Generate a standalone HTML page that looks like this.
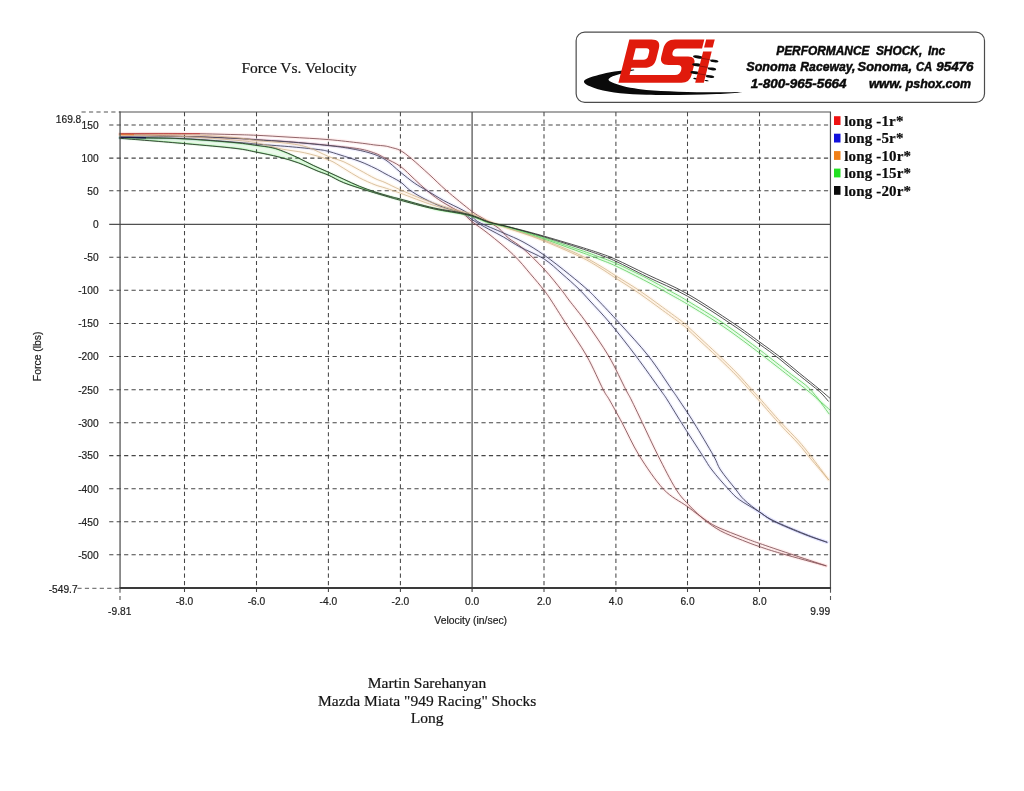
<!DOCTYPE html>
<html><head><meta charset="utf-8"><title>Force Vs. Velocity</title>
<style>
html,body{margin:0;padding:0;background:#fff;}
body{width:1024px;height:791px;overflow:hidden;position:relative;font-family:"Liberation Sans",sans-serif;}
svg{position:absolute;left:0;top:0;display:block;will-change:transform;}
.ax{font-family:"Liberation Sans",sans-serif;font-size:10.4px;fill:#222;stroke:#222;stroke-width:0.2px;}
.ser{font-family:"Liberation Serif",serif;font-size:15.5px;fill:#141414;stroke:#141414;stroke-width:0.2px;}
.leg{font-family:"Liberation Serif",serif;font-weight:bold;font-size:15px;fill:#0c0c0c;stroke:#0c0c0c;stroke-width:0.2px;letter-spacing:0.15px;}
.logo{font-family:"Liberation Sans",sans-serif;font-weight:bold;font-style:italic;font-size:12.3px;fill:#0a0a0a;stroke:#0a0a0a;stroke-width:0.45px;}
</style></head><body>
<svg width="1024" height="791" viewBox="0 0 1024 791">
<rect width="1024" height="791" fill="#ffffff"/>

<g fill="none">
<line x1="109.2" y1="125.0" x2="830.5" y2="125.0" stroke="#464646" stroke-width="1.05" stroke-dasharray="4.2 3.245"/>
<line x1="109.2" y1="158.1" x2="830.5" y2="158.1" stroke="#464646" stroke-width="1.05" stroke-dasharray="4.2 3.245"/>
<line x1="109.2" y1="190.7" x2="830.5" y2="190.7" stroke="#464646" stroke-width="1.05" stroke-dasharray="4.2 3.245"/>
<line x1="109.2" y1="257.3" x2="830.5" y2="257.3" stroke="#464646" stroke-width="1.05" stroke-dasharray="4.2 3.245"/>
<line x1="109.2" y1="290.3" x2="830.5" y2="290.3" stroke="#464646" stroke-width="1.05" stroke-dasharray="4.2 3.245"/>
<line x1="109.2" y1="323.4" x2="830.5" y2="323.4" stroke="#464646" stroke-width="1.05" stroke-dasharray="4.2 3.245"/>
<line x1="109.2" y1="356.4" x2="830.5" y2="356.4" stroke="#464646" stroke-width="1.05" stroke-dasharray="4.2 3.245"/>
<line x1="109.2" y1="389.8" x2="830.5" y2="389.8" stroke="#464646" stroke-width="1.05" stroke-dasharray="4.2 3.245"/>
<line x1="109.2" y1="422.7" x2="830.5" y2="422.7" stroke="#464646" stroke-width="1.05" stroke-dasharray="4.2 3.245"/>
<line x1="109.2" y1="455.6" x2="830.5" y2="455.6" stroke="#464646" stroke-width="1.05" stroke-dasharray="4.2 3.245"/>
<line x1="109.2" y1="488.7" x2="830.5" y2="488.7" stroke="#464646" stroke-width="1.05" stroke-dasharray="4.2 3.245"/>
<line x1="109.2" y1="521.7" x2="830.5" y2="521.7" stroke="#464646" stroke-width="1.05" stroke-dasharray="4.2 3.245"/>
<line x1="109.2" y1="554.8" x2="830.5" y2="554.8" stroke="#464646" stroke-width="1.05" stroke-dasharray="4.2 3.245"/>
<line x1="81.5" y1="112.0" x2="120.0" y2="112.0" stroke="#555" stroke-width="1.1" stroke-dasharray="4.2 3.245"/>
<line x1="77.4" y1="588.3" x2="120.0" y2="588.3" stroke="#4a4a4a" stroke-width="0.9" stroke-dasharray="4.2 3.245"/>
<line x1="184.5" y1="112.0" x2="184.5" y2="591.9" stroke="#464646" stroke-width="1.05" stroke-dasharray="4.2 3.245"/>
<line x1="256.5" y1="112.0" x2="256.5" y2="591.9" stroke="#464646" stroke-width="1.05" stroke-dasharray="4.2 3.245"/>
<line x1="328.4" y1="112.0" x2="328.4" y2="591.9" stroke="#464646" stroke-width="1.05" stroke-dasharray="4.2 3.245"/>
<line x1="400.4" y1="112.0" x2="400.4" y2="591.9" stroke="#464646" stroke-width="1.05" stroke-dasharray="4.2 3.245"/>
<line x1="544.0" y1="112.0" x2="544.0" y2="591.9" stroke="#464646" stroke-width="1.05" stroke-dasharray="4.2 3.245"/>
<line x1="615.9" y1="112.0" x2="615.9" y2="591.9" stroke="#464646" stroke-width="1.05" stroke-dasharray="4.2 3.245"/>
<line x1="687.5" y1="112.0" x2="687.5" y2="591.9" stroke="#464646" stroke-width="1.05" stroke-dasharray="4.2 3.245"/>
<line x1="759.5" y1="112.0" x2="759.5" y2="591.9" stroke="#464646" stroke-width="1.05" stroke-dasharray="4.2 3.245"/>
<line x1="120.0" y1="588.0" x2="120.0" y2="600.0" stroke="#555" stroke-width="1.1" stroke-dasharray="4.2 3.245" stroke-dashoffset="7.0"/>
<line x1="830.5" y1="588.0" x2="830.5" y2="600.0" stroke="#555" stroke-width="1.1" stroke-dasharray="4.2 3.245" stroke-dashoffset="7.0"/>
<line x1="109.2" y1="224.4" x2="830.5" y2="224.4" stroke="#505050" stroke-width="1.2"/>
<line x1="472.1" y1="112.0" x2="472.1" y2="591.9" stroke="#585858" stroke-width="1.3"/>
</g>
<path d="M119.8,137.5 C124.8,137.6 139.1,137.8 150.0,138.0 C160.9,138.2 170.8,138.2 185.0,139.0 C199.2,139.8 223.1,141.8 235.0,142.9 C246.9,144.0 250.2,144.8 256.4,145.6 C262.6,146.4 267.6,146.9 272.2,148.0 C276.8,149.1 279.5,150.2 283.9,151.9 C288.3,153.6 293.7,156.0 298.6,158.3 C303.5,160.6 308.2,163.2 313.2,165.6 C318.2,167.9 323.3,170.1 328.4,172.4 C333.5,174.7 338.6,177.2 343.8,179.5 C348.9,181.8 354.2,184.4 359.4,186.5 C364.6,188.6 369.8,190.5 375.0,192.2 C380.2,193.9 386.4,195.6 390.6,196.8 C394.8,198.0 398.8,198.9 400.4,199.3 L400.4,200.0 C398.8,199.6 396.1,198.9 390.6,197.3 C385.1,195.7 375.0,192.8 367.2,190.3 C359.4,187.8 350.2,185.1 343.8,182.5 C337.3,179.9 332.7,176.8 328.4,174.9 C324.1,173.0 323.1,173.0 318.1,171.0 C313.1,169.0 305.1,165.1 298.6,162.7 C292.1,160.3 286.0,158.6 279.0,156.8 C272.0,155.0 263.7,153.4 256.4,151.9 C249.1,150.4 246.9,149.5 235.0,148.1 C223.1,146.7 204.2,145.1 185.0,143.4 C165.8,141.7 130.7,138.9 119.8,138.0 Z" fill="#5fd05f" fill-opacity="0.12" stroke="none"/>
<g fill="none" stroke-linejoin="round" stroke-linecap="round">
<path d="M119.8,133.5 C130.7,133.5 165.8,133.3 185.0,133.5 C204.2,133.7 223.1,134.3 235.0,134.6 C246.9,134.9 247.3,134.9 256.5,135.3 C265.7,135.7 278.0,136.5 290.0,137.2 C302.0,137.9 316.8,138.6 328.5,139.6 C340.2,140.6 352.2,142.1 360.0,143.0 C367.8,143.9 370.8,144.5 375.0,145.0 C379.2,145.5 382.4,145.6 385.0,146.0 C387.6,146.4 388.0,146.6 390.6,147.3 C393.2,148.1 396.9,148.6 400.4,150.5 C403.9,152.4 406.6,154.7 411.4,158.6 C416.1,162.5 423.0,168.9 428.9,174.2 C434.8,179.5 439.3,184.4 446.5,190.6 C453.7,196.8 465.9,206.8 472.1,211.5 C478.3,216.2 479.5,216.1 483.9,218.9 C488.3,221.7 494.5,225.0 498.6,228.2 C502.7,231.4 504.3,234.6 508.4,238.0 C512.5,241.4 517.1,243.3 523.0,248.5 C528.9,253.7 537.6,262.1 544.0,269.0 C550.4,275.9 557.5,285.0 561.6,290.2 C565.8,295.4 564.7,294.5 568.9,300.0 C573.1,305.5 580.3,314.0 586.9,323.4 C593.5,332.8 602.2,345.2 608.8,356.2 C615.2,367.3 622.1,382.5 625.9,389.8 C629.7,397.1 628.7,394.5 631.4,400.0 C634.1,405.5 637.9,413.4 642.3,422.7 C646.7,431.9 652.4,444.4 658.0,455.5 C663.6,466.6 670.6,480.6 675.9,489.1 C681.2,497.6 685.2,501.1 690.0,506.2 C694.8,511.4 699.7,515.9 704.8,520.0 C709.9,524.1 714.3,527.5 720.6,530.9 C726.9,534.3 736.0,537.7 742.5,540.3 C749.0,542.9 752.9,544.4 759.4,546.6 C765.9,548.8 770.5,550.4 781.6,553.6 C792.7,556.8 818.6,563.8 826.0,565.8" stroke="#ff0000" stroke-width="3.5" stroke-opacity="0.06"/>
<path d="M119.8,134.5 C124.8,134.6 139.1,134.9 150.0,135.2 C160.9,135.5 170.8,135.9 185.0,136.4 C199.2,136.9 223.1,137.7 235.0,138.2 C246.9,138.7 247.5,139.0 256.5,139.6 C265.5,140.2 276.8,140.8 288.8,141.7 C300.8,142.6 316.7,144.1 328.5,145.3 C340.3,146.5 351.6,147.6 359.4,148.9 C367.1,150.2 370.7,151.7 375.0,153.2 C379.3,154.7 380.8,155.9 385.0,158.1 C389.2,160.3 395.5,162.9 400.4,166.4 C405.3,169.9 409.9,175.1 414.3,179.1 C418.7,183.1 422.9,187.2 427.0,190.6 C431.1,194.0 434.3,196.6 438.7,199.6 C443.1,202.6 449.3,206.1 453.4,208.4 C457.4,210.7 459.9,211.3 463.0,213.5 C466.1,215.7 467.4,218.0 471.7,221.4 C476.0,224.8 481.9,228.5 488.8,234.0 C495.7,239.5 506.3,248.0 513.2,254.6 C520.1,261.2 525.2,267.8 530.3,273.8 C535.4,279.7 540.6,285.8 544.0,290.2 C547.4,294.6 547.3,294.5 550.9,300.0 C554.5,305.5 559.8,314.0 565.8,323.4 C571.8,332.8 580.6,345.2 586.9,356.2 C593.1,367.3 599.5,382.5 603.3,389.8 C607.1,397.1 606.4,394.5 609.5,400.0 C612.6,405.5 617.0,413.4 622.0,422.7 C627.0,431.9 632.3,444.4 639.2,455.5 C646.1,466.6 655.5,480.6 663.4,489.1 C671.3,497.6 679.7,501.0 686.9,506.2 C694.1,511.5 701.2,517.2 706.6,520.8 C712.0,524.4 713.0,525.1 719.0,527.8 C725.0,530.5 735.8,534.6 742.5,537.2 C749.2,539.8 751.6,540.7 759.4,543.4 C767.2,546.1 778.3,549.9 789.4,553.6 C800.5,557.3 819.9,563.8 826.0,565.8" stroke="#ff0000" stroke-width="3.5" stroke-opacity="0.06"/>
<path d="M119.8,137.6 C130.7,137.4 165.8,136.5 185.0,136.6 C204.2,136.7 223.1,137.8 235.0,138.4 C246.9,139.0 247.4,139.3 256.4,139.9 C265.4,140.5 276.8,141.0 288.8,141.9 C300.8,142.8 318.2,144.5 328.4,145.6 C338.6,146.7 343.1,147.3 350.0,148.5 C356.9,149.7 364.2,151.2 370.0,153.0 C375.8,154.8 379.9,156.3 385.0,159.5 C390.1,162.7 395.5,168.3 400.4,172.2 C405.3,176.1 409.9,179.9 414.3,183.0 C418.7,186.1 422.1,187.7 427.0,190.6 C431.9,193.5 437.6,197.2 443.6,200.5 C449.6,203.8 458.4,207.7 463.1,210.3 C467.8,212.9 469.1,214.0 471.7,216.0 C474.3,218.0 473.7,219.5 479.0,222.3 C484.3,225.1 496.2,229.7 503.5,233.0 C510.8,236.3 516.2,238.2 523.0,241.9 C529.8,245.6 536.3,249.6 544.0,255.0 C551.7,260.4 562.1,268.6 569.4,274.5 C576.7,280.4 583.3,285.9 588.0,290.2 C592.7,294.4 592.5,294.5 597.8,300.0 C603.1,305.5 611.2,314.0 619.7,323.4 C628.2,332.8 639.9,345.2 648.6,356.2 C657.3,367.3 666.9,382.5 672.0,389.8 C677.1,397.1 675.4,394.5 679.0,400.0 C682.6,405.5 688.2,413.4 693.9,422.7 C699.6,431.9 708.9,447.6 713.4,455.5 C717.9,463.4 716.9,464.4 720.6,470.0 C724.3,475.6 731.6,484.2 735.5,489.1 C739.4,494.1 740.1,495.9 744.1,499.7 C748.1,503.5 754.5,508.4 759.4,511.9 C764.3,515.4 766.1,517.1 773.8,520.8 C781.4,524.5 796.1,530.5 805.0,534.1 C813.9,537.7 823.2,540.9 826.9,542.2" stroke="#0000ff" stroke-width="3.5" stroke-opacity="0.06"/>
<path d="M119.8,138.0 C130.7,138.1 165.0,138.0 185.0,138.8 C205.0,139.5 228.1,141.7 240.0,142.6 C251.9,143.5 248.3,143.4 256.4,144.1 C264.5,144.8 278.5,145.7 288.8,146.6 C299.1,147.5 311.5,148.7 318.1,149.5 C324.7,150.3 324.8,150.5 328.4,151.4 C332.0,152.3 334.7,153.2 340.0,154.9 C345.3,156.6 354.2,159.3 360.0,161.5 C365.8,163.7 370.8,166.2 375.0,168.2 C379.2,170.2 380.8,171.3 385.0,173.6 C389.2,175.9 396.3,179.3 400.4,182.0 C404.5,184.7 405.5,187.0 409.4,189.8 C413.3,192.6 418.3,195.7 424.0,198.6 C429.7,201.5 437.1,205.0 443.6,207.4 C450.1,209.8 458.4,211.2 463.1,213.2 C467.8,215.2 467.4,216.7 471.7,219.4 C476.0,222.1 483.5,226.3 488.8,229.2 C494.1,232.1 498.3,234.0 503.5,237.0 C508.7,240.0 513.2,243.3 520.0,247.0 C526.8,250.7 537.0,254.4 544.0,258.9 C551.0,263.4 556.3,268.9 562.0,273.8 C567.7,278.7 573.3,283.7 578.0,288.2 C582.7,292.7 584.6,295.1 590.0,301.0 C595.4,306.9 602.6,314.2 610.3,323.4 C618.0,332.6 627.8,345.2 636.1,356.2 C644.4,367.3 655.1,382.5 660.3,389.8 C665.5,397.1 663.9,394.5 667.4,400.0 C670.9,405.5 675.5,413.4 681.4,422.7 C687.2,431.9 697.4,447.6 702.5,455.5 C707.6,463.4 707.7,464.4 712.0,470.0 C716.3,475.6 723.8,484.2 728.4,489.1 C733.0,494.1 734.2,495.9 739.4,499.7 C744.6,503.5 753.7,508.3 759.4,511.9 C765.1,515.5 766.1,517.5 773.8,521.3 C781.4,525.1 796.1,531.1 805.0,534.6 C813.9,538.1 823.2,540.9 826.9,542.2" stroke="#0000ff" stroke-width="3.5" stroke-opacity="0.06"/>
<path d="M119.8,134.3 C130.7,134.4 165.8,134.1 185.0,134.6 C204.2,135.1 223.1,136.6 235.0,137.6 C246.9,138.6 247.4,139.5 256.4,140.5 C265.4,141.5 280.1,142.3 288.8,143.5 C297.5,144.7 301.8,145.3 308.4,147.5 C315.0,149.7 322.6,154.1 328.5,156.5 C334.4,158.9 338.6,159.6 343.8,161.8 C348.9,164.1 354.2,167.2 359.4,170.0 C364.6,172.8 370.7,176.4 375.0,178.5 C379.3,180.6 380.8,180.6 385.0,182.5 C389.2,184.4 393.9,187.0 400.4,189.8 C406.9,192.7 415.2,196.3 424.0,199.6 C432.8,202.8 445.4,207.0 453.4,209.3 C461.3,211.6 466.6,211.9 471.7,213.6 C476.8,215.3 477.9,217.0 484.0,219.4 C490.1,221.8 498.7,224.8 508.0,228.0 C517.3,231.2 528.0,234.0 540.0,238.5 C552.0,243.0 570.0,250.4 580.0,255.0 C590.0,259.6 594.0,262.3 600.0,265.8 C606.0,269.3 609.5,271.8 616.0,275.9 C622.5,280.0 631.2,285.1 639.0,290.3 C646.8,295.5 654.9,301.7 662.5,307.2 C670.1,312.7 679.8,319.7 684.4,323.3 C689.0,326.9 684.1,323.1 690.0,328.6 C695.9,334.1 711.9,348.8 719.7,356.2 C727.5,363.7 731.6,367.6 736.9,373.1 C742.2,378.6 747.9,385.3 751.7,389.5 C755.5,393.7 754.6,392.6 759.5,398.1 C764.4,403.6 774.5,415.4 781.0,422.5 C787.5,429.6 793.7,435.5 798.6,441.0 C803.5,446.5 805.3,448.9 810.3,455.3 C815.3,461.8 825.5,475.6 828.5,479.7" stroke="#ff9000" stroke-width="3.5" stroke-opacity="0.06"/>
<path d="M119.8,135.0 C130.7,135.3 165.8,135.7 185.0,136.6 C204.2,137.5 223.1,139.2 235.0,140.2 C246.9,141.2 248.7,141.4 256.4,142.8 C264.1,144.2 273.2,147.2 281.2,148.9 C289.3,150.6 296.8,151.0 304.7,152.8 C312.6,154.6 322.1,157.2 328.6,159.8 C335.1,162.4 338.6,165.4 343.8,168.4 C348.9,171.4 354.2,175.1 359.4,177.8 C364.6,180.5 370.7,183.1 375.0,184.8 C379.3,186.5 380.8,186.5 385.0,187.9 C389.2,189.3 392.3,190.3 400.4,193.2 C408.5,196.1 423.9,202.3 433.8,205.4 C443.7,208.5 453.7,210.4 460.0,212.0 C466.3,213.6 467.7,213.6 471.7,215.0 C475.7,216.4 477.9,218.2 484.0,220.4 C490.1,222.6 498.7,225.1 508.0,228.3 C517.3,231.4 528.0,234.7 540.0,239.4 C552.0,244.1 570.0,251.9 580.0,256.7 C590.0,261.4 594.0,264.3 600.0,267.9 C606.0,271.5 609.5,274.1 616.0,278.3 C622.5,282.5 631.2,287.9 639.0,293.2 C646.8,298.5 654.9,304.7 662.5,310.2 C670.1,315.7 679.8,322.7 684.4,326.3 C689.0,329.9 684.1,326.1 690.0,331.6 C695.9,337.1 711.9,351.8 719.7,359.2 C727.5,366.7 731.6,370.6 736.9,376.1 C742.2,381.6 747.9,388.3 751.7,392.5 C755.5,396.7 754.6,395.6 759.5,401.1 C764.4,406.6 774.5,418.4 781.0,425.5 C787.5,432.6 793.7,438.5 798.6,444.0 C803.5,449.5 805.3,452.4 810.3,458.3 C815.3,464.2 825.5,476.1 828.5,479.7" stroke="#ff9000" stroke-width="3.5" stroke-opacity="0.06"/>
<path d="M119.8,137.5 C124.8,137.6 139.1,137.8 150.0,138.0 C160.9,138.2 170.8,138.2 185.0,139.0 C199.2,139.8 223.1,141.8 235.0,142.9 C246.9,144.0 250.2,144.8 256.4,145.6 C262.6,146.4 267.6,146.9 272.2,148.0 C276.8,149.1 279.5,150.2 283.9,151.9 C288.3,153.6 293.7,156.0 298.6,158.3 C303.5,160.6 308.2,163.2 313.2,165.6 C318.2,167.9 323.3,170.1 328.4,172.4 C333.5,174.7 338.6,177.2 343.8,179.5 C348.9,181.8 354.2,184.4 359.4,186.5 C364.6,188.6 369.8,190.5 375.0,192.2 C380.2,193.9 386.4,195.6 390.6,196.8 C394.8,198.0 393.2,197.4 400.4,199.3 C407.6,201.2 422.5,205.6 433.8,208.2 C445.1,210.8 458.8,212.2 468.0,214.6 C477.2,216.9 482.1,220.2 488.8,222.3 C495.5,224.4 499.9,224.8 508.4,227.2 C516.9,229.6 528.1,232.7 540.0,236.5 C551.9,240.3 570.0,246.6 580.0,250.0 C590.0,253.4 594.0,255.0 600.0,257.2 C606.0,259.4 608.2,259.9 616.0,263.4 C623.8,266.9 638.1,273.8 646.9,278.3 C655.7,282.8 662.0,286.5 668.8,290.3 C675.5,294.1 678.4,295.4 687.5,300.9 C696.6,306.4 711.4,315.2 723.4,323.3 C735.4,331.4 752.1,344.2 759.5,349.7 C766.9,355.2 762.6,352.1 768.0,356.2 C773.4,360.4 784.6,369.2 791.6,374.7 C798.6,380.2 804.1,383.0 810.3,389.5 C816.5,396.0 825.9,409.7 829.0,413.8" stroke="#00e000" stroke-width="3.5" stroke-opacity="0.06"/>
<path d="M119.8,138.0 C130.7,138.9 165.8,141.7 185.0,143.4 C204.2,145.1 223.1,146.7 235.0,148.1 C246.9,149.5 249.1,150.4 256.4,151.9 C263.7,153.4 272.0,155.0 279.0,156.8 C286.0,158.6 292.1,160.3 298.6,162.7 C305.1,165.1 313.1,169.0 318.1,171.0 C323.1,173.0 324.1,173.0 328.4,174.9 C332.7,176.8 337.3,179.9 343.8,182.5 C350.2,185.1 359.4,187.8 367.2,190.3 C375.0,192.8 385.1,195.7 390.6,197.3 C396.1,198.9 393.2,198.1 400.4,200.0 C407.6,201.9 422.5,206.4 433.8,209.0 C445.1,211.6 458.8,213.1 468.0,215.4 C477.2,217.7 482.1,221.0 488.8,223.0 C495.5,225.0 499.9,225.1 508.4,227.5 C516.9,229.9 528.1,233.4 540.0,237.5 C551.9,241.6 570.0,248.2 580.0,251.9 C590.0,255.5 594.0,257.1 600.0,259.5 C606.0,261.9 608.2,262.4 616.0,266.1 C623.8,269.7 638.1,277.0 646.9,281.6 C655.7,286.2 662.0,289.8 668.8,293.6 C675.5,297.4 678.4,298.7 687.5,304.2 C696.6,309.7 711.4,318.5 723.4,326.6 C735.4,334.7 752.1,347.5 759.5,353.0 C766.9,358.5 762.6,355.4 768.0,359.6 C773.4,363.7 784.6,372.5 791.6,378.0 C798.6,383.5 803.9,387.5 810.3,392.8 C816.7,398.1 826.5,407.0 829.8,409.8" stroke="#00e000" stroke-width="3.5" stroke-opacity="0.06"/>
<path d="M119.8,133.5 C130.7,133.5 165.8,133.3 185.0,133.5 C204.2,133.7 223.1,134.3 235.0,134.6 C246.9,134.9 247.3,134.9 256.5,135.3 C265.7,135.7 278.0,136.5 290.0,137.2 C302.0,137.9 316.8,138.6 328.5,139.6 C340.2,140.6 352.2,142.1 360.0,143.0 C367.8,143.9 370.8,144.5 375.0,145.0 C379.2,145.5 382.4,145.6 385.0,146.0 C387.6,146.4 388.0,146.6 390.6,147.3 C393.2,148.1 396.9,148.6 400.4,150.5 C403.9,152.4 406.6,154.7 411.4,158.6 C416.1,162.5 423.0,168.9 428.9,174.2 C434.8,179.5 439.3,184.4 446.5,190.6 C453.7,196.8 465.9,206.8 472.1,211.5 C478.3,216.2 479.5,216.1 483.9,218.9 C488.3,221.7 494.5,225.0 498.6,228.2 C502.7,231.4 504.3,234.6 508.4,238.0 C512.5,241.4 517.1,243.3 523.0,248.5 C528.9,253.7 537.6,262.1 544.0,269.0 C550.4,275.9 557.5,285.0 561.6,290.2 C565.8,295.4 564.7,294.5 568.9,300.0 C573.1,305.5 580.3,314.0 586.9,323.4 C593.5,332.8 602.2,345.2 608.8,356.2 C615.2,367.3 622.1,382.5 625.9,389.8 C629.7,397.1 628.7,394.5 631.4,400.0 C634.1,405.5 637.9,413.4 642.3,422.7 C646.7,431.9 652.4,444.4 658.0,455.5 C663.6,466.6 670.6,480.6 675.9,489.1 C681.2,497.6 685.2,501.1 690.0,506.2 C694.8,511.4 699.7,515.9 704.8,520.0 C709.9,524.1 714.3,527.5 720.6,530.9 C726.9,534.3 736.0,537.7 742.5,540.3 C749.0,542.9 752.9,544.4 759.4,546.6 C765.9,548.8 770.5,550.4 781.6,553.6 C792.7,556.8 818.6,563.8 826.0,565.8" stroke="#86565a" stroke-width="0.9"/>
<path d="M119.8,134.5 C124.8,134.6 139.1,134.9 150.0,135.2 C160.9,135.5 170.8,135.9 185.0,136.4 C199.2,136.9 223.1,137.7 235.0,138.2 C246.9,138.7 247.5,139.0 256.5,139.6 C265.5,140.2 276.8,140.8 288.8,141.7 C300.8,142.6 316.7,144.1 328.5,145.3 C340.3,146.5 351.6,147.6 359.4,148.9 C367.1,150.2 370.7,151.7 375.0,153.2 C379.3,154.7 380.8,155.9 385.0,158.1 C389.2,160.3 395.5,162.9 400.4,166.4 C405.3,169.9 409.9,175.1 414.3,179.1 C418.7,183.1 422.9,187.2 427.0,190.6 C431.1,194.0 434.3,196.6 438.7,199.6 C443.1,202.6 449.3,206.1 453.4,208.4 C457.4,210.7 459.9,211.3 463.0,213.5 C466.1,215.7 467.4,218.0 471.7,221.4 C476.0,224.8 481.9,228.5 488.8,234.0 C495.7,239.5 506.3,248.0 513.2,254.6 C520.1,261.2 525.2,267.8 530.3,273.8 C535.4,279.7 540.6,285.8 544.0,290.2 C547.4,294.6 547.3,294.5 550.9,300.0 C554.5,305.5 559.8,314.0 565.8,323.4 C571.8,332.8 580.6,345.2 586.9,356.2 C593.1,367.3 599.5,382.5 603.3,389.8 C607.1,397.1 606.4,394.5 609.5,400.0 C612.6,405.5 617.0,413.4 622.0,422.7 C627.0,431.9 632.3,444.4 639.2,455.5 C646.1,466.6 655.5,480.6 663.4,489.1 C671.3,497.6 679.7,501.0 686.9,506.2 C694.1,511.5 701.2,517.2 706.6,520.8 C712.0,524.4 713.0,525.1 719.0,527.8 C725.0,530.5 735.8,534.6 742.5,537.2 C749.2,539.8 751.6,540.7 759.4,543.4 C767.2,546.1 778.3,549.9 789.4,553.6 C800.5,557.3 819.9,563.8 826.0,565.8" stroke="#86565a" stroke-width="0.9"/>
<path d="M119.8,137.6 C130.7,137.4 165.8,136.5 185.0,136.6 C204.2,136.7 223.1,137.8 235.0,138.4 C246.9,139.0 247.4,139.3 256.4,139.9 C265.4,140.5 276.8,141.0 288.8,141.9 C300.8,142.8 318.2,144.5 328.4,145.6 C338.6,146.7 343.1,147.3 350.0,148.5 C356.9,149.7 364.2,151.2 370.0,153.0 C375.8,154.8 379.9,156.3 385.0,159.5 C390.1,162.7 395.5,168.3 400.4,172.2 C405.3,176.1 409.9,179.9 414.3,183.0 C418.7,186.1 422.1,187.7 427.0,190.6 C431.9,193.5 437.6,197.2 443.6,200.5 C449.6,203.8 458.4,207.7 463.1,210.3 C467.8,212.9 469.1,214.0 471.7,216.0 C474.3,218.0 473.7,219.5 479.0,222.3 C484.3,225.1 496.2,229.7 503.5,233.0 C510.8,236.3 516.2,238.2 523.0,241.9 C529.8,245.6 536.3,249.6 544.0,255.0 C551.7,260.4 562.1,268.6 569.4,274.5 C576.7,280.4 583.3,285.9 588.0,290.2 C592.7,294.4 592.5,294.5 597.8,300.0 C603.1,305.5 611.2,314.0 619.7,323.4 C628.2,332.8 639.9,345.2 648.6,356.2 C657.3,367.3 666.9,382.5 672.0,389.8 C677.1,397.1 675.4,394.5 679.0,400.0 C682.6,405.5 688.2,413.4 693.9,422.7 C699.6,431.9 708.9,447.6 713.4,455.5 C717.9,463.4 716.9,464.4 720.6,470.0 C724.3,475.6 731.6,484.2 735.5,489.1 C739.4,494.1 740.1,495.9 744.1,499.7 C748.1,503.5 754.5,508.4 759.4,511.9 C764.3,515.4 766.1,517.1 773.8,520.8 C781.4,524.5 796.1,530.5 805.0,534.1 C813.9,537.7 823.2,540.9 826.9,542.2" stroke="#46465e" stroke-width="0.9"/>
<path d="M119.8,138.0 C130.7,138.1 165.0,138.0 185.0,138.8 C205.0,139.5 228.1,141.7 240.0,142.6 C251.9,143.5 248.3,143.4 256.4,144.1 C264.5,144.8 278.5,145.7 288.8,146.6 C299.1,147.5 311.5,148.7 318.1,149.5 C324.7,150.3 324.8,150.5 328.4,151.4 C332.0,152.3 334.7,153.2 340.0,154.9 C345.3,156.6 354.2,159.3 360.0,161.5 C365.8,163.7 370.8,166.2 375.0,168.2 C379.2,170.2 380.8,171.3 385.0,173.6 C389.2,175.9 396.3,179.3 400.4,182.0 C404.5,184.7 405.5,187.0 409.4,189.8 C413.3,192.6 418.3,195.7 424.0,198.6 C429.7,201.5 437.1,205.0 443.6,207.4 C450.1,209.8 458.4,211.2 463.1,213.2 C467.8,215.2 467.4,216.7 471.7,219.4 C476.0,222.1 483.5,226.3 488.8,229.2 C494.1,232.1 498.3,234.0 503.5,237.0 C508.7,240.0 513.2,243.3 520.0,247.0 C526.8,250.7 537.0,254.4 544.0,258.9 C551.0,263.4 556.3,268.9 562.0,273.8 C567.7,278.7 573.3,283.7 578.0,288.2 C582.7,292.7 584.6,295.1 590.0,301.0 C595.4,306.9 602.6,314.2 610.3,323.4 C618.0,332.6 627.8,345.2 636.1,356.2 C644.4,367.3 655.1,382.5 660.3,389.8 C665.5,397.1 663.9,394.5 667.4,400.0 C670.9,405.5 675.5,413.4 681.4,422.7 C687.2,431.9 697.4,447.6 702.5,455.5 C707.6,463.4 707.7,464.4 712.0,470.0 C716.3,475.6 723.8,484.2 728.4,489.1 C733.0,494.1 734.2,495.9 739.4,499.7 C744.6,503.5 753.7,508.3 759.4,511.9 C765.1,515.5 766.1,517.5 773.8,521.3 C781.4,525.1 796.1,531.1 805.0,534.6 C813.9,538.1 823.2,540.9 826.9,542.2" stroke="#46465e" stroke-width="0.9"/>
<path d="M119.8,134.3 C130.7,134.4 165.8,134.1 185.0,134.6 C204.2,135.1 223.1,136.6 235.0,137.6 C246.9,138.6 247.4,139.5 256.4,140.5 C265.4,141.5 280.1,142.3 288.8,143.5 C297.5,144.7 301.8,145.3 308.4,147.5 C315.0,149.7 322.6,154.1 328.5,156.5 C334.4,158.9 338.6,159.6 343.8,161.8 C348.9,164.1 354.2,167.2 359.4,170.0 C364.6,172.8 370.7,176.4 375.0,178.5 C379.3,180.6 380.8,180.6 385.0,182.5 C389.2,184.4 393.9,187.0 400.4,189.8 C406.9,192.7 415.2,196.3 424.0,199.6 C432.8,202.8 445.4,207.0 453.4,209.3 C461.3,211.6 466.6,211.9 471.7,213.6 C476.8,215.3 477.9,217.0 484.0,219.4 C490.1,221.8 498.7,224.8 508.0,228.0 C517.3,231.2 528.0,234.0 540.0,238.5 C552.0,243.0 570.0,250.4 580.0,255.0 C590.0,259.6 594.0,262.3 600.0,265.8 C606.0,269.3 609.5,271.8 616.0,275.9 C622.5,280.0 631.2,285.1 639.0,290.3 C646.8,295.5 654.9,301.7 662.5,307.2 C670.1,312.7 679.8,319.7 684.4,323.3 C689.0,326.9 684.1,323.1 690.0,328.6 C695.9,334.1 711.9,348.8 719.7,356.2 C727.5,363.7 731.6,367.6 736.9,373.1 C742.2,378.6 747.9,385.3 751.7,389.5 C755.5,393.7 754.6,392.6 759.5,398.1 C764.4,403.6 774.5,415.4 781.0,422.5 C787.5,429.6 793.7,435.5 798.6,441.0 C803.5,446.5 805.3,448.9 810.3,455.3 C815.3,461.8 825.5,475.6 828.5,479.7" stroke="#d0b48a" stroke-width="0.8"/>
<path d="M119.8,135.0 C130.7,135.3 165.8,135.7 185.0,136.6 C204.2,137.5 223.1,139.2 235.0,140.2 C246.9,141.2 248.7,141.4 256.4,142.8 C264.1,144.2 273.2,147.2 281.2,148.9 C289.3,150.6 296.8,151.0 304.7,152.8 C312.6,154.6 322.1,157.2 328.6,159.8 C335.1,162.4 338.6,165.4 343.8,168.4 C348.9,171.4 354.2,175.1 359.4,177.8 C364.6,180.5 370.7,183.1 375.0,184.8 C379.3,186.5 380.8,186.5 385.0,187.9 C389.2,189.3 392.3,190.3 400.4,193.2 C408.5,196.1 423.9,202.3 433.8,205.4 C443.7,208.5 453.7,210.4 460.0,212.0 C466.3,213.6 467.7,213.6 471.7,215.0 C475.7,216.4 477.9,218.2 484.0,220.4 C490.1,222.6 498.7,225.1 508.0,228.3 C517.3,231.4 528.0,234.7 540.0,239.4 C552.0,244.1 570.0,251.9 580.0,256.7 C590.0,261.4 594.0,264.3 600.0,267.9 C606.0,271.5 609.5,274.1 616.0,278.3 C622.5,282.5 631.2,287.9 639.0,293.2 C646.8,298.5 654.9,304.7 662.5,310.2 C670.1,315.7 679.8,322.7 684.4,326.3 C689.0,329.9 684.1,326.1 690.0,331.6 C695.9,337.1 711.9,351.8 719.7,359.2 C727.5,366.7 731.6,370.6 736.9,376.1 C742.2,381.6 747.9,388.3 751.7,392.5 C755.5,396.7 754.6,395.6 759.5,401.1 C764.4,406.6 774.5,418.4 781.0,425.5 C787.5,432.6 793.7,438.5 798.6,444.0 C803.5,449.5 805.3,452.4 810.3,458.3 C815.3,464.2 825.5,476.1 828.5,479.7" stroke="#d0b48a" stroke-width="0.8"/>
<path d="M119.8,137.5 C124.8,137.6 139.1,137.8 150.0,138.0 C160.9,138.2 170.8,138.2 185.0,139.0 C199.2,139.8 223.1,141.8 235.0,142.9 C246.9,144.0 250.2,144.8 256.4,145.6 C262.6,146.4 267.6,146.9 272.2,148.0 C276.8,149.1 279.5,150.2 283.9,151.9 C288.3,153.6 293.7,156.0 298.6,158.3 C303.5,160.6 308.2,163.2 313.2,165.6 C318.2,167.9 323.3,170.1 328.4,172.4 C333.5,174.7 338.6,177.2 343.8,179.5 C348.9,181.8 354.2,184.4 359.4,186.5 C364.6,188.6 369.8,190.5 375.0,192.2 C380.2,193.9 386.4,195.6 390.6,196.8 C394.8,198.0 393.2,197.4 400.4,199.3 C407.6,201.2 422.5,205.6 433.8,208.2 C445.1,210.8 458.8,212.2 468.0,214.6 C477.2,216.9 482.1,220.2 488.8,222.3 C495.5,224.4 499.9,224.8 508.4,227.2 C516.9,229.6 528.1,232.7 540.0,236.5 C551.9,240.3 570.0,246.6 580.0,250.0 C590.0,253.4 594.0,255.0 600.0,257.2 C606.0,259.4 608.2,259.9 616.0,263.4 C623.8,266.9 638.1,273.8 646.9,278.3 C655.7,282.8 662.0,286.5 668.8,290.3 C675.5,294.1 678.4,295.4 687.5,300.9 C696.6,306.4 711.4,315.2 723.4,323.3 C735.4,331.4 752.1,344.2 759.5,349.7 C766.9,355.2 762.6,352.1 768.0,356.2 C773.4,360.4 784.6,369.2 791.6,374.7 C798.6,380.2 804.1,383.0 810.3,389.5 C816.5,396.0 825.9,409.7 829.0,413.8" stroke="#6ad26a" stroke-width="0.9"/>
<path d="M119.8,138.0 C130.7,138.9 165.8,141.7 185.0,143.4 C204.2,145.1 223.1,146.7 235.0,148.1 C246.9,149.5 249.1,150.4 256.4,151.9 C263.7,153.4 272.0,155.0 279.0,156.8 C286.0,158.6 292.1,160.3 298.6,162.7 C305.1,165.1 313.1,169.0 318.1,171.0 C323.1,173.0 324.1,173.0 328.4,174.9 C332.7,176.8 337.3,179.9 343.8,182.5 C350.2,185.1 359.4,187.8 367.2,190.3 C375.0,192.8 385.1,195.7 390.6,197.3 C396.1,198.9 393.2,198.1 400.4,200.0 C407.6,201.9 422.5,206.4 433.8,209.0 C445.1,211.6 458.8,213.1 468.0,215.4 C477.2,217.7 482.1,221.0 488.8,223.0 C495.5,225.0 499.9,225.1 508.4,227.5 C516.9,229.9 528.1,233.4 540.0,237.5 C551.9,241.6 570.0,248.2 580.0,251.9 C590.0,255.5 594.0,257.1 600.0,259.5 C606.0,261.9 608.2,262.4 616.0,266.1 C623.8,269.7 638.1,277.0 646.9,281.6 C655.7,286.2 662.0,289.8 668.8,293.6 C675.5,297.4 678.4,298.7 687.5,304.2 C696.6,309.7 711.4,318.5 723.4,326.6 C735.4,334.7 752.1,347.5 759.5,353.0 C766.9,358.5 762.6,355.4 768.0,359.6 C773.4,363.7 784.6,372.5 791.6,378.0 C798.6,383.5 803.9,387.5 810.3,392.8 C816.7,398.1 826.5,407.0 829.8,409.8" stroke="#6ad26a" stroke-width="0.9"/>
<path d="M119.8,137.3 C124.8,137.4 139.1,137.6 150.0,137.8 C160.9,138.1 170.8,138.0 185.0,138.8 C199.2,139.6 223.1,141.5 235.0,142.6 C246.9,143.7 250.2,144.5 256.4,145.3 C262.6,146.2 267.6,146.7 272.2,147.7 C276.8,148.7 279.5,149.8 283.9,151.5 C288.3,153.2 293.7,155.7 298.6,158.0 C303.5,160.3 308.2,163.0 313.2,165.3 C318.2,167.7 323.3,169.8 328.4,172.1 C333.5,174.4 338.6,176.8 343.8,179.2 C348.9,181.5 354.2,184.1 359.4,186.2 C364.6,188.3 369.8,190.2 375.0,191.9 C380.2,193.6 386.4,195.3 390.6,196.5 C394.8,197.7 393.2,197.1 400.4,199.0 C407.6,200.9 422.5,205.4 433.8,207.9 C445.1,210.4 458.8,211.9 468.0,214.2 C477.2,216.5 482.1,219.7 488.8,221.8 C495.5,223.9 499.9,224.5 508.4,226.7 C516.9,228.9 528.1,231.7 540.0,235.0 C551.9,238.3 570.0,243.8 580.0,246.8 C590.0,249.9 594.0,251.2 600.0,253.3 C606.0,255.4 608.2,256.0 616.0,259.5 C623.8,263.0 635.0,268.7 646.9,274.4 C658.8,280.1 673.2,285.8 687.5,293.9 C701.8,302.0 720.8,314.8 732.8,322.8 C744.8,330.8 751.8,336.3 759.5,341.9 C767.2,347.5 772.4,351.1 779.0,356.2 C785.6,361.4 792.6,367.6 799.4,373.1 C806.2,378.6 814.6,385.3 819.7,389.5 C824.8,393.7 828.1,396.7 829.8,398.1" stroke="#262626" stroke-width="0.8"/>
<path d="M119.8,138.3 C130.7,139.2 165.8,142.0 185.0,143.7 C204.2,145.4 223.1,147.0 235.0,148.4 C246.9,149.8 249.1,150.8 256.4,152.2 C263.7,153.6 272.0,155.3 279.0,157.1 C286.0,158.9 292.1,160.6 298.6,163.0 C305.1,165.4 313.1,169.3 318.1,171.3 C323.1,173.3 324.1,173.3 328.4,175.2 C332.7,177.1 337.3,180.2 343.8,182.8 C350.2,185.4 359.4,188.1 367.2,190.6 C375.0,193.1 385.1,196.0 390.6,197.6 C396.1,199.2 393.2,198.4 400.4,200.3 C407.6,202.2 422.5,206.4 433.8,208.8 C445.1,211.2 458.8,212.8 468.0,215.0 C477.2,217.2 482.1,220.3 488.8,222.3 C495.5,224.3 499.9,224.7 508.4,226.9 C516.9,229.1 528.1,232.2 540.0,235.7 C551.9,239.2 570.0,244.9 580.0,248.1 C590.0,251.3 594.0,252.7 600.0,254.9 C606.0,257.1 608.2,257.7 616.0,261.4 C623.8,265.0 635.0,270.9 646.9,276.7 C658.8,282.5 673.2,288.1 687.5,296.2 C701.8,304.3 720.8,317.1 732.8,325.1 C744.8,333.1 751.8,338.6 759.5,344.2 C767.2,349.8 772.4,353.4 779.0,358.6 C785.6,363.8 792.6,369.9 799.4,375.4 C806.2,380.9 814.9,387.5 819.7,391.8 C824.5,396.1 826.9,399.7 828.3,401.2" stroke="#262626" stroke-width="0.8"/>
</g>
<path d="M120.6,133.6 L200,133.7" stroke="#c84444" stroke-width="1.2" fill="none" opacity="0.75"/>
<path d="M120.6,134.5 L134,134.6" stroke="#e06a30" stroke-width="1.4" fill="none" opacity="0.8"/>
<path d="M120.6,137.2 L129,137.3 L146,137.7" stroke="#141445" stroke-width="1.6" fill="none" opacity="0.9"/>
<g fill="none">
<line x1="120.05" y1="111.40" x2="120.05" y2="588.05" stroke="#484848" stroke-width="1.2"/>
<line x1="119.45" y1="112.00" x2="831.05" y2="112.00" stroke="#505050" stroke-width="1.2"/>
<line x1="830.45" y1="112.00" x2="830.45" y2="588.05" stroke="#505050" stroke-width="1.2"/>
<line x1="119.35" y1="588.05" x2="831.05" y2="588.05" stroke="#3a3a3a" stroke-width="2"/>
</g>
<g class="ax" style="font-size:10.2px">
<text x="98.6" y="128.8" text-anchor="end">150</text>
<text x="98.6" y="161.9" text-anchor="end">100</text>
<text x="98.6" y="194.5" text-anchor="end">50</text>
<text x="98.6" y="228.0" text-anchor="end">0</text>
<text x="98.6" y="261.1" text-anchor="end">-50</text>
<text x="98.6" y="294.1" text-anchor="end">-100</text>
<text x="98.6" y="327.2" text-anchor="end">-150</text>
<text x="98.6" y="360.2" text-anchor="end">-200</text>
<text x="98.6" y="393.6" text-anchor="end">-250</text>
<text x="98.6" y="426.5" text-anchor="end">-300</text>
<text x="98.6" y="459.4" text-anchor="end">-350</text>
<text x="98.6" y="492.5" text-anchor="end">-400</text>
<text x="98.6" y="525.5" text-anchor="end">-450</text>
<text x="98.6" y="558.6" text-anchor="end">-500</text>
<text x="81.3" y="122.5" text-anchor="end">169.8</text>
<text x="77.6" y="592.5" text-anchor="end">-549.7</text>
<text x="184.5" y="605.2" text-anchor="middle">-8.0</text>
<text x="256.5" y="605.2" text-anchor="middle">-6.0</text>
<text x="328.4" y="605.2" text-anchor="middle">-4.0</text>
<text x="400.4" y="605.2" text-anchor="middle">-2.0</text>
<text x="472.1" y="605.2" text-anchor="middle">0.0</text>
<text x="544.0" y="605.2" text-anchor="middle">2.0</text>
<text x="615.9" y="605.2" text-anchor="middle">4.0</text>
<text x="687.5" y="605.2" text-anchor="middle">6.0</text>
<text x="759.5" y="605.2" text-anchor="middle">8.0</text>
<text x="119.7" y="615.3" text-anchor="middle">-9.81</text>
<text x="830.2" y="615" text-anchor="end">9.99</text>
</g><g class="ax">
<text x="470.7" y="623.6" text-anchor="middle">Velocity (in/sec)</text>
<text transform="translate(41,356.3) rotate(-90)" text-anchor="middle">Force (lbs)</text>
</g>
<text class="ser" x="299.1" y="72.7" text-anchor="middle">Force Vs. Velocity</text>
<text class="ser" x="427" y="687.9" text-anchor="middle">Martin Sarehanyan</text>
<text class="ser" x="427.2" y="705.6" text-anchor="middle">Mazda Miata "949 Racing" Shocks</text>
<text class="ser" x="427.2" y="722.9" text-anchor="middle">Long</text>
<rect x="834" y="116.2" width="6.5" height="8.8" fill="#ee1111"/>
<text class="leg" x="844.3" y="125.7">long -1r*</text>
<rect x="834" y="133.7" width="6.5" height="8.8" fill="#1111dd"/>
<text class="leg" x="844.3" y="143.2">long -5r*</text>
<rect x="834" y="151.1" width="6.5" height="8.8" fill="#f08018"/>
<text class="leg" x="844.3" y="160.6">long -10r*</text>
<rect x="834" y="168.6" width="6.5" height="8.8" fill="#22e022"/>
<text class="leg" x="844.3" y="178.1">long -15r*</text>
<rect x="834" y="186.0" width="6.5" height="8.8" fill="#0a0a0a"/>
<text class="leg" x="844.3" y="195.5">long -20r*</text>
<g id="logo">
<rect x="576.15" y="32.05" width="408.35" height="70.4" rx="8.6" ry="8.6" fill="#fff" stroke="#4c4c4c" stroke-width="1.2"/>
<path d="M634,69.6 C626,69.9 612,71.6 602.4,74.1 C594,76.2 583.9,78.8 583.9,81.6 C583.9,84 590,87 598,89.2 C611,92.8 628,94.3 646.3,94.8 C664,95.3 690,95.1 716.6,94 C727,93.5 737,92.8 742.6,91.9 C736,92 727,92.3 716.6,92.3 C690,92.3 664,91.3 646.3,89.9 C636,88.9 624,86.9 616.4,84 C610,81.6 607.6,80.4 608.9,78.7 C610.2,77 614,75.6 620,74 C625,72.6 630,71.3 634.3,70.3 Z" fill="#0a0a0a"/>
<g transform="matrix(1,0,-0.252,1,20.87,0)">
<path fill="#e01a0c" fill-rule="evenodd" d="M618.4,39.4 H640.5 C647,39.4 650.2,42.5 650.2,48.5 V59 C650.2,65 647,67.8 640.5,67.8 H627.6 V75 H673 Q678,75 678,70 Q678,65 673,65 H664 C658,65 654.7,62 654.7,56.5 V48.5 C654.7,42.5 658,39.4 664,39.4 H693.4 V48.5 H669 Q664.9,48.5 664.9,52.5 Q664.9,56.5 669,56.5 H681.5 Q689.6,56.5 689.6,64.5 V75 Q689.6,82.8 681.5,82.8 H618.4 Z M627,48.3 H637.5 Q641.4,48.3 641.4,52.2 V56 Q641.4,59.8 637.5,59.8 H627 Z"/>
</g>
<ellipse cx="698.0" cy="57.0" rx="5.0" ry="1.50" transform="rotate(8 698.0 57.0)" fill="#0a0a0a"/>
<ellipse cx="714.3" cy="61.0" rx="4.2" ry="1.35" transform="rotate(8 714.3 61.0)" fill="#0a0a0a"/>
<ellipse cx="696.8" cy="64.8" rx="4.6" ry="1.45" transform="rotate(8 696.8 64.8)" fill="#0a0a0a"/>
<ellipse cx="711.9" cy="68.9" rx="4.3" ry="1.35" transform="rotate(8 711.9 68.9)" fill="#0a0a0a"/>
<ellipse cx="694.9" cy="72.6" rx="4.5" ry="1.45" transform="rotate(8 694.9 72.6)" fill="#0a0a0a"/>
<ellipse cx="710.0" cy="76.5" rx="4.3" ry="1.35" transform="rotate(8 710.0 76.5)" fill="#0a0a0a"/>
<ellipse cx="695.6" cy="78.7" rx="2.4" ry="0.80" transform="rotate(8 695.6 78.7)" fill="#0a0a0a"/>
<ellipse cx="706.5" cy="80.6" rx="2.2" ry="0.60" transform="rotate(8 706.5 80.6)" fill="#0a0a0a"/>
<g transform="matrix(1,0,-0.252,1,20.87,0)">
<rect x="695.2" y="39.4" width="8.6" height="8.2" fill="#e01a0c"/>
<rect x="695.2" y="51.4" width="8.6" height="31.4" fill="#e01a0c"/>
</g>
<line x1="700.8" y1="58.2" x2="710.8" y2="59.8" stroke="#300" stroke-width="0.7" opacity="0.55"/>
<line x1="699.3" y1="66.0" x2="709.3" y2="67.6" stroke="#300" stroke-width="0.7" opacity="0.55"/>
<line x1="697.4" y1="73.6" x2="707.4" y2="75.2" stroke="#300" stroke-width="0.7" opacity="0.55"/>
<g class="logo">
<text x="776.2" y="54.6" textLength="93.3" lengthAdjust="spacingAndGlyphs">PERFORMANCE</text>
<text x="875.9" y="54.6" textLength="46.3" lengthAdjust="spacingAndGlyphs">SHOCK,</text>
<text x="927.9" y="54.6" textLength="17.4" lengthAdjust="spacingAndGlyphs">Inc</text>
<text x="746.3" y="71.3" textLength="49.6" lengthAdjust="spacingAndGlyphs">Sonoma</text>
<text x="800.3" y="71.3" textLength="55.2" lengthAdjust="spacingAndGlyphs">Raceway,</text>
<text x="857.6" y="71.3" textLength="54.4" lengthAdjust="spacingAndGlyphs">Sonoma,</text>
<text x="915.9" y="71.3" textLength="16.4" lengthAdjust="spacingAndGlyphs">CA</text>
<text x="936.2" y="71.3" textLength="37.4" lengthAdjust="spacingAndGlyphs">95476</text>
<text x="750.8" y="87.6" textLength="95.8" lengthAdjust="spacingAndGlyphs">1-800-965-5664</text>
<text x="868.9" y="87.6" textLength="33.6" lengthAdjust="spacingAndGlyphs">www.</text>
<text x="905.7" y="87.6" textLength="65.4" lengthAdjust="spacingAndGlyphs">pshox.com</text>
</g>
</g>
</svg></body></html>
